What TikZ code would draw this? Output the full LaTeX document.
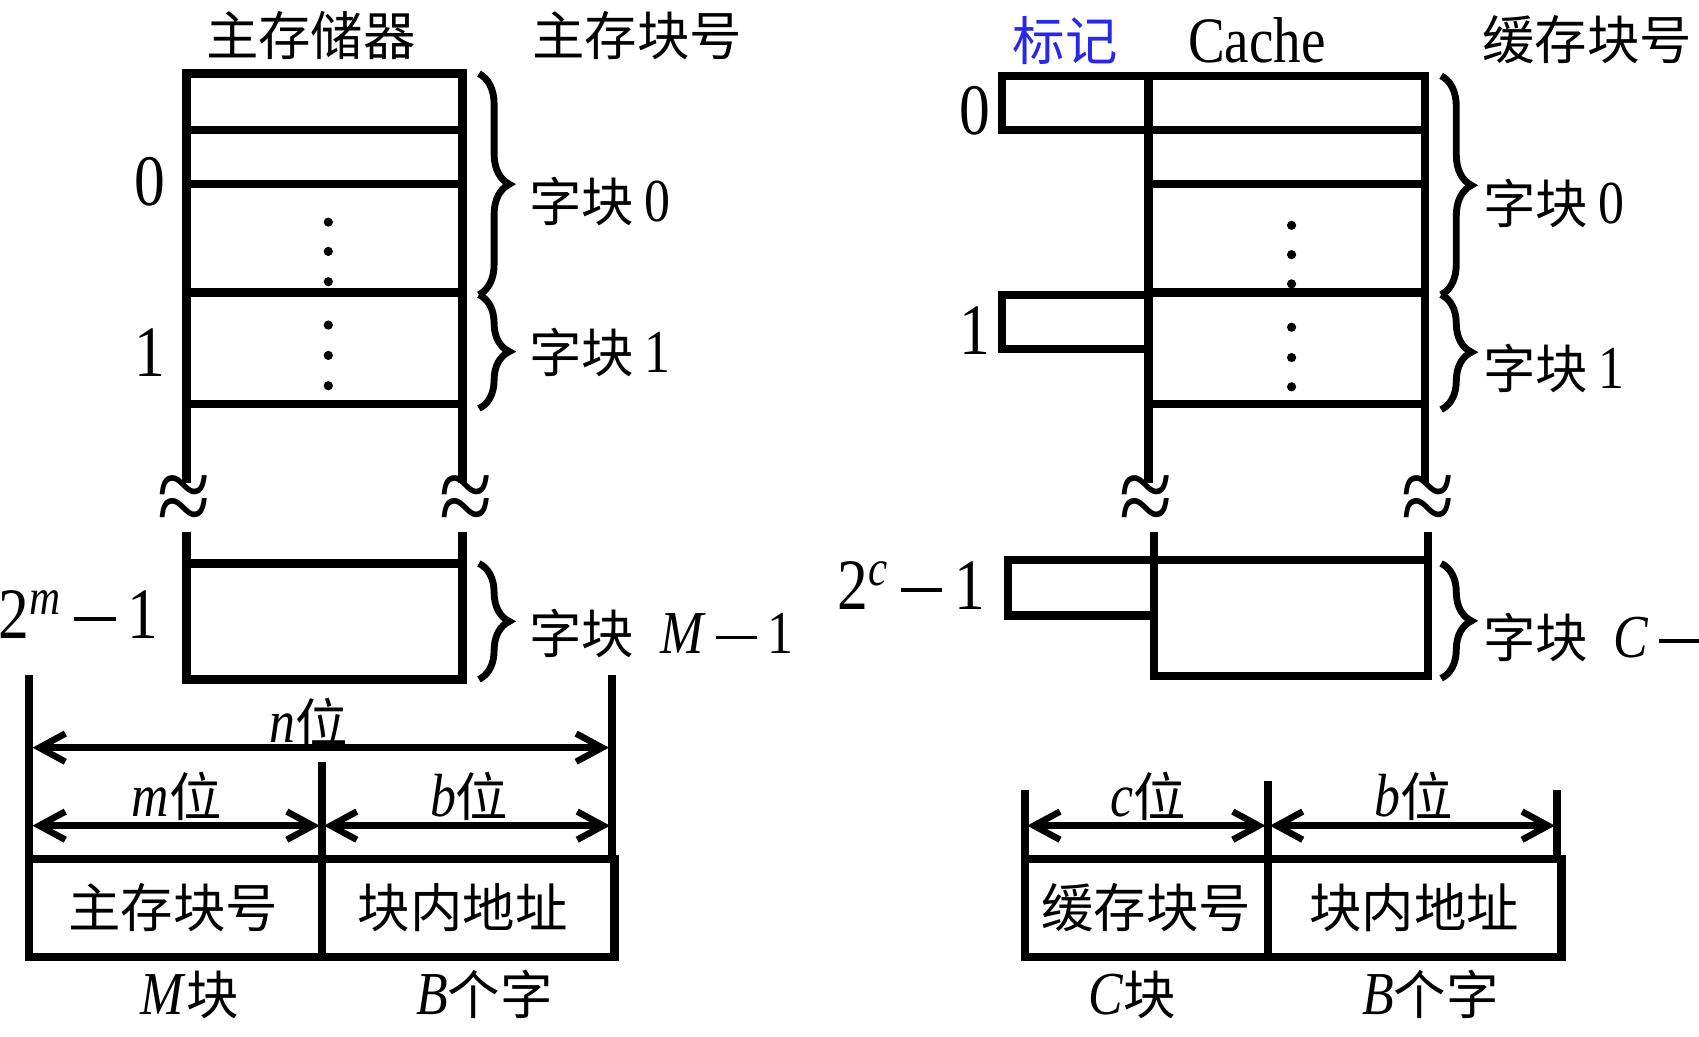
\documentclass[tikz,border=0pt]{standalone}
\usepackage{fontspec}
\setmainfont[FakeStretch=0.85]{Liberation Serif}
\newfontfamily\cjk[Scale=0.86]{Noto Sans CJK SC}
\usetikzlibrary{arrows.meta,decorations.pathreplacing,positioning}
\definecolor{tagblue}{RGB}{40,40,230}
\newcommand\wideminus{\,\rule[0.24em]{0.38cm}{0.032cm}\,}

\begin{document}
\begin{tikzpicture}[x=0.01cm, y=-0.01cm,
    wall/.style={line width=2.2pt, line cap=rect},
    curly/.style={decorate, decoration={brace, amplitude=0.28cm}, line width=1.8pt},
    txt/.style={inner sep=0pt, font=\fontsize{16}{18}\selectfont},
    big/.style={inner sep=0pt, font=\fontsize{19}{20}\selectfont},
    wave/.style={inner sep=0pt, font=\fontsize{30}{30}\selectfont},
    dimline/.style={line width=1.7pt, {Straight Barb[length=2.4mm,width=2.6mm]}-{Straight Barb[length=2.4mm,width=2.6mm]}},
    vdot/.style={circle, fill, inner sep=0pt, minimum size=0.085cm}]
\useasboundingbox (0,0) rectangle (1568,957);

% titles
\node[txt] (memtitle) at (287,33) {\cjk 主存储器};
\node[txt] (memno) at (588,33) {\cjk 主存块号};
\node[txt, text=tagblue] (tagtitle) at (983,37) {\cjk 标记};
\node[txt, font=\fontsize{17}{18}\selectfont] (cachetitle) at (1160,37) {Cache};
\node[txt] (cacheno) at (1465,37) {\cjk 缓存块号};

% main memory
\draw[wall] (172,68) -- (172,442) (427,68) -- (427,442);
\foreach \y in {68,120,170,270,373} \draw[wall] (172,\y) -- (427,\y);
\draw[wall] (172,495) -- (172,627) -- (427,627) -- (427,495) (172,520) -- (427,520);
\foreach \y in {205,232,260,300,328,356} \node[vdot] (mdot\y) at (303,\y) {};
\node[wave] (mbrkL) at (170,466) {≈};
\node[wave] (mbrkR) at (430,466) {≈};
\node[big] (mrow0) at (138,168) {0};
\node[big] (mrow1) at (138,325) {1};
\node[big, anchor=east] (mrowM) at (147,567) {2\textsuperscript{\textit{m}}\wideminus 1};

\draw[curly] (442,68) -- (442,272);
\draw[curly] (442,272) -- (442,377);
\draw[curly] (442,520) -- (442,627);
\node[txt, anchor=west] (mblk0) at (488,186) {{\cjk 字块}\,0};
\node[txt, anchor=west] (mblk1) at (488,325) {{\cjk 字块}\,1};
\node[txt, anchor=west] (mblkM) at (488,585) {{\cjk 字块}\ \ \textit{M}\wideminus 1};

% main memory address
\draw[wall] (27,627) -- (27,793) (565,627) -- (565,793) (297,707) -- (297,883);
\draw[wall] (27,793) rectangle (567,883);
\coordinate (nL) at (30,690); \coordinate (nR) at (562,690);
\coordinate (mL) at (30,762); \coordinate (mR) at (295,762);
\coordinate (bL) at (299,762); \coordinate (bR) at (563,762);
\draw[dimline] (nL) -- (nR);
\draw[dimline] (mL) -- (mR);
\draw[dimline] (bL) -- (bR);
\node[txt] (nbits) at (285,667) {\textit{n}\cjk 位};
\node[txt] (mbits) at (163,735) {\textit{m}\cjk 位};
\node[txt] (bbits) at (433,735) {\textit{b}\cjk 位};
\node[txt] (mfield) at (160,838) {\cjk 主存块号};
\node[txt] (bfield) at (427,838) {\cjk 块内地址};
\node[txt] (mcount) at (175,918) {\textit{M}\cjk 块};
\node[txt] (bcount) at (447,918) {\textit{B}\cjk 个字};

% cache
\draw[wall] (1060,70) -- (1060,442) (1315,70) -- (1315,442);
\foreach \y in {70,120,170,270,373} \draw[wall] (1060,\y) -- (1315,\y);
\draw[wall] (925,70) rectangle (1060,120);
\draw[wall] (925,272) rectangle (1060,322);
\draw[wall] (1065,495) -- (1065,624) -- (1318,624) -- (1318,495) (1065,517) -- (1318,517);
\draw[wall] (930,517) rectangle (1065,568);
\foreach \y in {208,235,262,302,330,357} \node[vdot] (cdot\y) at (1192,\y) {};
\node[wave] (cbrkL) at (1058,466) {≈};
\node[wave] (cbrkR) at (1318,466) {≈};
\node[big] (crow0) at (900,102) {0};
\node[big] (crow1) at (900,305) {1};
\node[big, anchor=east] (crowC) at (910,540) {2\textsuperscript{\textit{c}}\wideminus 1};

\draw[curly] (1330,70) -- (1330,272);
\draw[curly] (1330,272) -- (1330,378);
\draw[curly] (1330,520) -- (1330,626);
\node[txt, anchor=west] (cblk0) at (1368,188) {{\cjk 字块}\,0};
\node[txt, anchor=west] (cblk1) at (1368,340) {{\cjk 字块}\,1};
\node[txt, anchor=west] (cblkC) at (1368,588) {{\cjk 字块}\ \ \textit{C}\wideminus 1};

% cache address
\draw[wall] (946,733) -- (946,793) (1437,733) -- (1437,793) (1170,725) -- (1170,883);
\draw[wall] (946,793) rectangle (1441,883);
\coordinate (cL) at (948,762); \coordinate (cR) at (1168,762);
\coordinate (cbL) at (1172,762); \coordinate (cbR) at (1435,762);
\draw[dimline] (cL) -- (cR);
\draw[dimline] (cbL) -- (cbR);
\node[txt] (cbits) at (1060,735) {\textit{c}\cjk 位};
\node[txt] (cbbits) at (1305,735) {\textit{b}\cjk 位};
\node[txt] (cfield) at (1058,838) {\cjk 缓存块号};
\node[txt] (cbfield) at (1305,838) {\cjk 块内地址};
\node[txt] (ccount) at (1045,918) {\textit{C}\cjk 块};
\node[txt] (cbcount) at (1320,918) {\textit{B}\cjk 个字};
\end{tikzpicture}
\end{document}
